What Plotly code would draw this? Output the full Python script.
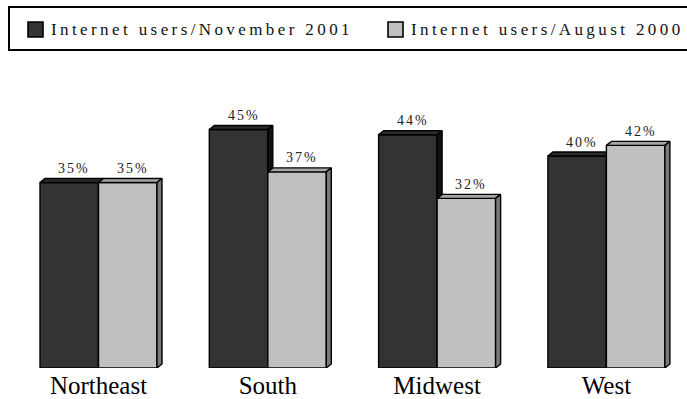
import plotly.graph_objects as go

# Regional internet use, two survey dates
regions = ["Northeast", "South", "Midwest", "West"]
nov_2001 = [35, 45, 44, 40]
aug_2000 = [35, 37, 32, 42]
series_names = ["Internet users/November 2001", "Internet users/August 2000"]

W, H = 687, 399
TOP, BOTTOM = 60, 31          # plot area rows
PX_PER_CAT = 169.3            # pixels between category centres
CAT0_PX = 98.5                # pixel of the first category centre
PX_PER_PCT = 5.3              # pixels per percentage point

bar_w = 58.5 / PX_PER_CAT     # width of one bar in data units
dx = 5.0 / PX_PER_CAT         # depth offset (x) of the 3-D faces
dy = 4.0 / PX_PER_PCT         # depth offset (y) of the 3-D faces

front_col = ["#333333", "#c0c0c0"]
top_col = ["#2b2b2b", "#a6a6a6"]
side_col = ["#111111", "#7a7a7a"]
edge = dict(color="black", width=1.4)
SERIF = "Liberation Serif"

fig = go.Figure()


def poly(xs, ys, fill):
    fig.add_trace(go.Scatter(
        x=xs + [xs[0]], y=ys + [ys[0]], mode="lines", fill="toself",
        fillcolor=fill, line=edge, hoverinfo="skip", showlegend=False))


plot_h = H - TOP - BOTTOM
y_max = plot_h / PX_PER_PCT
x_min = -CAT0_PX / PX_PER_CAT
x_max = (W - CAT0_PX) / PX_PER_CAT

annotations = []
for i, region in enumerate(regions):
    for k, vals in enumerate([nov_2001, aug_2000]):
        v = vals[i]
        xl = i - bar_w + k * bar_w
        xr = xl + bar_w
        # front face
        poly([xl, xr, xr, xl], [0, 0, v, v], front_col[k])
        # top face
        poly([xl, xl + dx, xr + dx, xr], [v, v + dy, v + dy, v], top_col[k])
        # right side face
        poly([xr, xr + dx, xr + dx, xr], [0, dy, v + dy, v], side_col[k])
        annotations.append(dict(
            x=(xl + xr) / 2, y=v, xref="x", yref="y",
            text=f'<span style="letter-spacing:2px">{v}%</span>',
            showarrow=False, yanchor="middle", yshift=14, xshift=5,
            font=dict(family=SERIF, size=14, color="#222222")))


def px_x(p):
    return p / W


def px_y(p):
    return (H - BOTTOM - p) / plot_h


shapes = [
    # legend frame (runs past the right edge)
    dict(type="rect", xref="paper", yref="paper",
         x0=px_x(9), x1=px_x(700), y0=px_y(50), y1=px_y(7),
         line=dict(color="black", width=2), fillcolor="white", layer="below"),
]
legend_items = [(28, 49), (388, 409)]
for k, (sx, tx) in enumerate(legend_items):
    shapes.append(dict(type="rect", xref="paper", yref="paper",
                       x0=px_x(sx), x1=px_x(sx + 15), y0=px_y(37), y1=px_y(22),
                       line=dict(color="black", width=1.6), fillcolor=front_col[k]))
    annotations.append(dict(
        x=px_x(tx), y=px_y(29), xref="paper", yref="paper",
        text=f'<span style="letter-spacing:3.4px">{series_names[k]}</span>',
        showarrow=False, xanchor="left", yanchor="middle",
        font=dict(family=SERIF, size=17, color="#111111")))

fig.update_layout(
    width=W, height=H,
    margin=dict(l=0, r=0, t=TOP, b=BOTTOM),
    paper_bgcolor="white", plot_bgcolor="white",
    showlegend=False,
    shapes=shapes,
    annotations=annotations,
    xaxis=dict(range=[x_min, x_max], tickvals=list(range(len(regions))),
               ticktext=regions, showgrid=False, zeroline=False, showline=False,
               ticks="", tickfont=dict(family=SERIF, size=25, color="black"),
               fixedrange=True),
    yaxis=dict(range=[0, y_max], visible=False, showgrid=False, zeroline=False,
               fixedrange=True),
)

fig.write_html("out.html")
